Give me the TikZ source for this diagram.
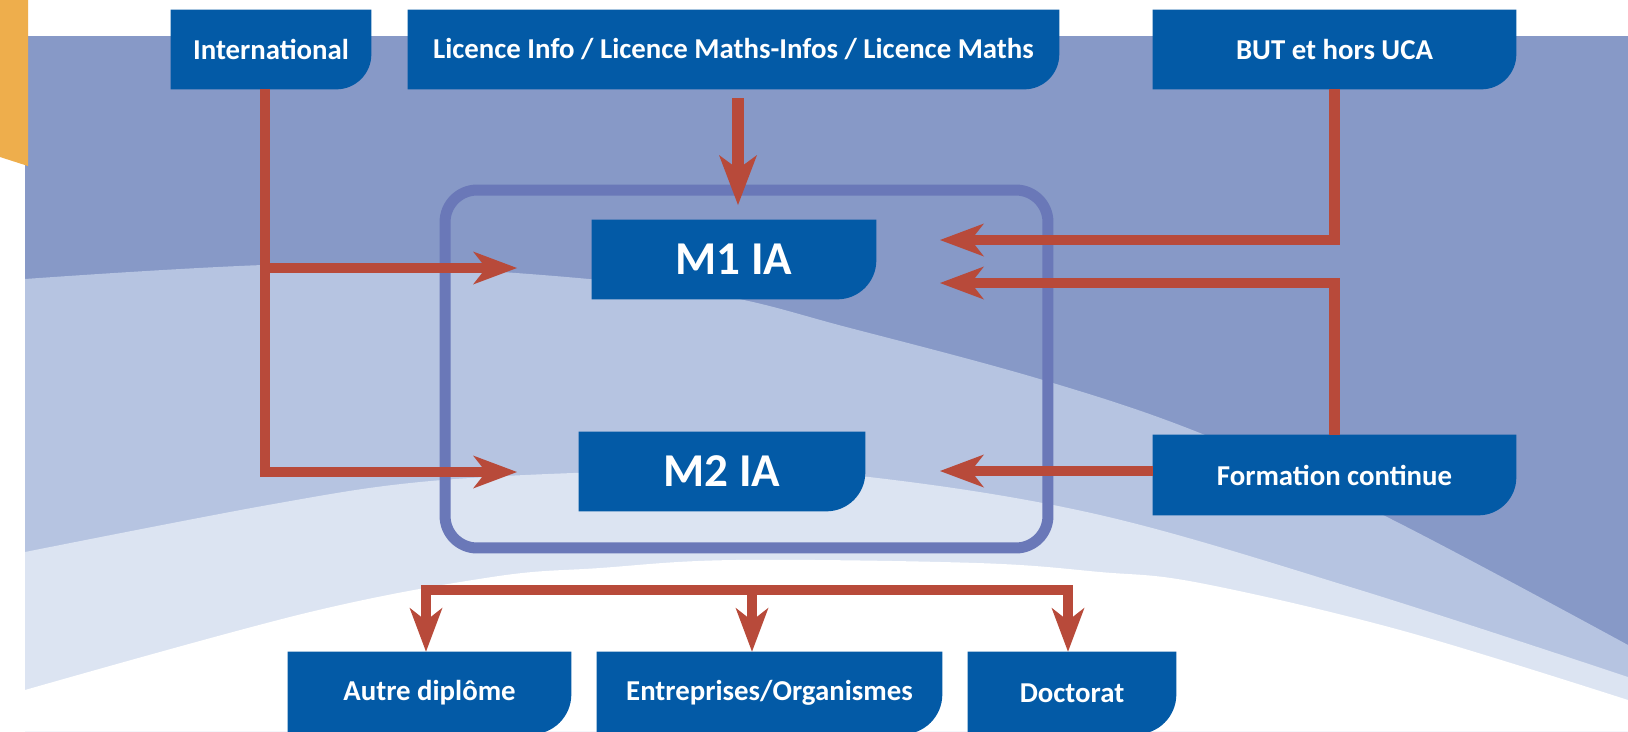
\documentclass[tikz,border=0pt]{standalone}
\usepackage{fontspec}
\setmainfont{Carlito}
\usetikzlibrary{arrows.meta}
\definecolor{boxblue}{HTML}{035AA6}
\definecolor{arrred}{HTML}{B84A3A}
\definecolor{bgmid}{HTML}{8799C7}
\definecolor{bglight}{HTML}{B6C4E1}
\definecolor{bglighter}{HTML}{DCE4F2}
\definecolor{framec}{HTML}{6A78B8}
\definecolor{tabc}{HTML}{EEAE4C}
\pgfdeclarelayer{back}
\pgfdeclarelayer{boxes}
\pgfsetlayers{back,boxes,main}
\newcommand{\myrbox}[2]{%
  \fill[boxblue] (#1.north west) -- (#1.north east) -- ([yshift=#2]#1.south east)
    arc[start angle=0,end angle=-90,radius=#2] -- (#1.south west) -- cycle;}
\begin{document}
\begin{tikzpicture}[x=0.02cm,y=-0.02cm,
  box/.style={rectangle, inner sep=0pt, text=white, font=\bfseries\fontsize{16.4}{19}\selectfont},
  bigbox/.style={box, font=\bfseries\fontsize{26.8}{30}\selectfont},
  arr/.style={draw=arrred, line width=0.21cm,
    -{Stealth[length=0.88cm,width=0.66cm,inset=0.26cm,line width=0pt]}},
  arrbig/.style={draw=arrred, line width=0.25cm,
    -{Stealth[length=1.0cm,width=0.76cm,inset=0.28cm,line width=0pt]}},
  framebox/.style={draw=framec, line width=0.22cm, rounded corners=0.64cm, inner sep=0pt}
]
\useasboundingbox (0,0) rectangle (1628,731);
\clip (0,0) rectangle (1628,731);
% background
\begin{pgfonlayer}{back}
\fill[white] (0,0) rectangle (1628,731);
\fill[bgmid] (25,36) rectangle (1628,731);
\fill[bglight] plot[smooth,tension=0.6] coordinates {(25,279) (300,264) (516,273) (712,294) (850,328) (1043,380) (1200,433) (1383,515) (1628,645)}
  -- (1628,731) -- (25,731) -- cycle;
\fill[bglighter] plot[smooth,tension=0.6] coordinates {(25,552) (268,505) (420,482) (600,472) (720,471) (869,477) (1100,515) (1360,590) (1628,677)}
  -- (1628,731) -- (25,731) -- cycle;
\fill[white] plot[smooth,tension=0.6] coordinates {(25,690) (306,613) (492,577) (600,568) (735,560) (977,563) (1100,572) (1200,583) (1400,630) (1628,700)}
  -- (1628,731) -- (25,731) -- cycle;
\fill[tabc] (0,0) -- (28,0) -- (28,166) -- (0,157) -- cycle;
\end{pgfonlayer}
% nodes
\node[box, minimum width=4cm, minimum height=1.58cm] (intl) at (271,49.5) {International};
\node[box, minimum width=13.02cm, minimum height=1.58cm] (lic) at (733.5,49.5) {Licence Info / Licence Maths-Infos / Licence Maths};
\node[box, minimum width=7.26cm, minimum height=1.58cm] (but) at (1334.5,49.5) {BUT et hors UCA};
\node[framebox, minimum width=12.06cm, minimum height=7.16cm] (frame) at (746.5,369) {};
\node[bigbox, minimum width=5.68cm, minimum height=1.58cm] (m1) at (734,259.5) {M1 IA};
\node[bigbox, minimum width=5.72cm, minimum height=1.58cm] (m2) at (722,471.5) {M2 IA};
\node[box, minimum width=7.26cm, minimum height=1.6cm] (fc) at (1334.5,475) {Formation continue};
\node[box, minimum width=5.66cm, minimum height=1.64cm] (autre) at (429.5,693) {Autre diplôme};
\node[box, minimum width=6.9cm, minimum height=1.64cm] (entr) at (769.5,693) {Entreprises/Organismes};
\node[box, minimum width=4.16cm, minimum height=1.64cm] (doct) at (1072,693) {Doctorat};
\begin{pgfonlayer}{boxes}
\myrbox{intl}{0.7cm}
\myrbox{lic}{0.7cm}
\myrbox{but}{0.7cm}
\myrbox{m1}{0.78cm}
\myrbox{m2}{0.78cm}
\myrbox{fc}{0.76cm}
\myrbox{autre}{0.8cm}
\myrbox{entr}{0.8cm}
\myrbox{doct}{0.8cm}
\end{pgfonlayer}
% arrow end points
\coordinate (m1inL) at (517,268);
\coordinate (m2inL) at (517,472);
\coordinate (ibend) at (265,472);
\coordinate (m1inR1) at (940,240);
\coordinate (m1inR2) at (940,283);
\coordinate (m2inR) at (940,471);
\coordinate (lictip) at (738,205);
\coordinate (barL) at (426,590);
\coordinate (barM) at (752,590);
\coordinate (barR) at (1068,590);
% connectors
\draw[arr] (ibend |- intl.south) -- (ibend) -- (m2inL);
\draw[arr] (ibend |- m1inL) -- (m1inL);
\draw[arrbig, shorten <=0.18cm] (lictip |- lic.south) -- (lictip);
\draw[arr] (but.south) |- (m1inR1);
\draw[arr] (fc.north) |- (m1inR2);
\draw[arr] (m2inR -| fc.west) -- (m2inR);
\draw[arr] (barM) -- (barL) -- (barL |- autre.north);
\draw[arr] (barM) -- (barR) -- (barR |- doct.north);
\draw[arr] (barM) -- (barM |- entr.north);
\end{tikzpicture}
\end{document}
